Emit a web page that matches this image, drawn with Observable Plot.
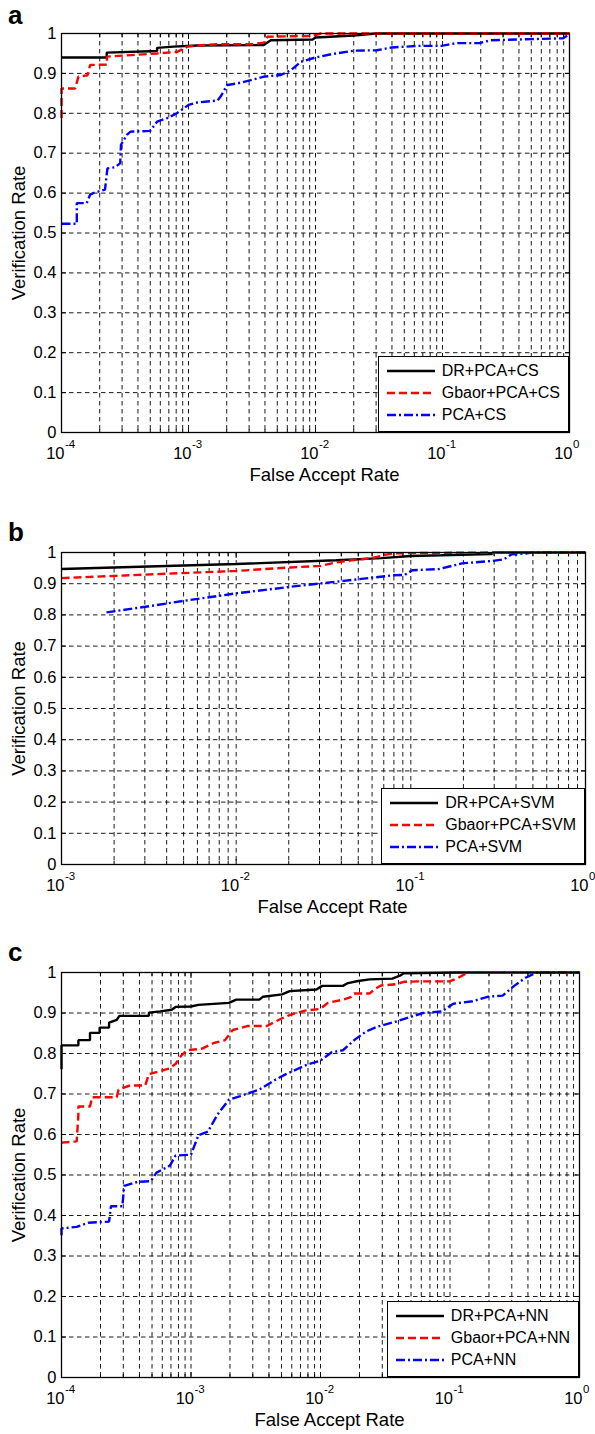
<!DOCTYPE html>
<html><head><meta charset="utf-8">
<script src="https://cdn.jsdelivr.net/npm/d3@7"></script>
<script src="https://cdn.jsdelivr.net/npm/@observablehq/plot@0.6"></script>
<style>
body{margin:0;background:#fff;font-family:'Liberation Sans',Arial,Helvetica,sans-serif;}
#root{position:relative;width:595px;height:1434px;overflow:hidden;background:#fff;}
.panel{position:absolute;left:0;width:595px;}
.letter{position:absolute;left:8px;font-weight:bold;font-size:26px;line-height:26px;}
.legend{position:absolute;box-sizing:border-box;background:#fff;border:1.3px solid #000;padding:3px 8px 5px 8px;font-size:16px;}
.legend .row{display:flex;align-items:center;height:22px;white-space:nowrap;}
.legend svg{margin-right:7px;flex:none;}
</style></head><body><div id="root"></div>
<script>
// ---------- data ----------
const panelLetters = ["a", "b", "c"];
const xTitle = "False Accept Rate";
const yTitle = "Verification Rate";
const yTicks = [0, 0.1, 0.2, 0.3, 0.4, 0.5, 0.6, 0.7, 0.8, 0.9, 1];
const yTickLabels = ["0", "0.1", "0.2", "0.3", "0.4", "0.5", "0.6", "0.7", "0.8", "0.9", "1"];
const minorSteps = [2, 3, 4, 5, 6, 7, 8, 9];

const xDecadesA = [1e-4, 1e-3, 1e-2, 1e-1, 1];
const xDecadesB = [1e-3, 1e-2, 1e-1, 1];
const xDecadesC = [1e-4, 1e-3, 1e-2, 1e-1, 1];

const namesA = ["DR+PCA+CS", "Gbaor+PCA+CS", "PCA+CS"];
const namesB = ["DR+PCA+SVM", "Gbaor+PCA+SVM", "PCA+SVM"];
const namesC = ["DR+PCA+NN", "Gbaor+PCA+NN", "PCA+NN"];

// Panel a
const farA_DR = [1e-4, 2.27e-4, 2.27e-4, 5.66e-4, 5.66e-4, 7.6e-4, 1.17e-3, 3.9e-3, 4.45e-3, 9.5e-3, 1.0e-2, 2.0e-2, 3.0e-2, 1];
const vrA_DR  = [0.94, 0.94, 0.952, 0.956, 0.964, 0.967, 0.970, 0.971, 0.983, 0.985, 0.990, 0.995, 1.0, 1.0];
const farA_GB = [1e-4, 1e-4, 1.28e-4, 1.36e-4, 1.6e-4, 1.68e-4, 2.28e-4, 2.28e-4, 5.66e-4, 8.15e-4, 9.8e-4, 1.17e-3, 1.69e-3, 3.09e-3, 3.93e-3, 4.19e-3, 9.5e-3, 1.1e-2, 1];
const vrA_GB  = [0.788, 0.862, 0.862, 0.892, 0.895, 0.921, 0.922, 0.942, 0.95, 0.954, 0.967, 0.97, 0.973, 0.973, 0.977, 0.992, 0.994, 1.0, 1.0];
const farA_PCA = [1e-4, 1.32e-4, 1.32e-4, 1.58e-4, 1.68e-4, 1.78e-4, 2.2e-4, 2.3e-4, 2.65e-4, 2.9e-4, 2.94e-4, 3.27e-4, 3.5e-4, 5e-4, 5.66e-4, 6.8e-4, 8.1e-4, 1e-3, 1.17e-3, 1.69e-3, 1.79e-3, 2.02e-3, 2.43e-3, 3.09e-3, 3.93e-3, 5.33e-3, 6.4e-3, 7.67e-3, 1e-2, 1.33e-2, 2.01e-2, 3.04e-2, 4.0e-2, 6.5e-2, 9.8e-2, 0.129, 0.195, 0.24, 0.51, 0.89, 1];
const vrA_PCA  = [0.523, 0.523, 0.575, 0.575, 0.596, 0.6, 0.609, 0.662, 0.665, 0.675, 0.721, 0.746, 0.754, 0.756, 0.779, 0.788, 0.8, 0.821, 0.827, 0.832, 0.842, 0.871, 0.875, 0.883, 0.892, 0.896, 0.908, 0.929, 0.94, 0.948, 0.957, 0.958, 0.965, 0.969, 0.969, 0.976, 0.976, 0.983, 0.986, 0.988, 0.998];

// Panel b
const farB_DR = [1e-3, 1e-2, 3.73e-2, 6.8e-2, 0.1, 0.15, 0.29, 0.3, 1];
const vrB_DR  = [0.947, 0.963, 0.975, 0.982, 0.989, 0.991, 0.995, 1.0, 1.0];
const farB_GB = [1e-3, 1e-2, 2.04e-2, 3.05e-2, 3.73e-2, 4.57e-2, 6.0e-2, 7.2e-2, 7.9e-2, 0.1, 0.3, 1];
const vrB_GB  = [0.918, 0.941, 0.952, 0.957, 0.968, 0.975, 0.982, 0.993, 0.997, 0.998, 1.0, 1.0];
const farB_PCA = [1.81e-3, 3.02e-3, 5e-3, 1e-2, 2.04e-2, 3.05e-2, 4.13e-2, 6.17e-2, 7.9e-2, 9.2e-2, 0.102, 0.145, 0.196, 0.293, 0.341, 0.377, 0.461, 0.5, 1];
const vrB_PCA  = [0.808, 0.826, 0.845, 0.869, 0.89, 0.901, 0.909, 0.92, 0.927, 0.928, 0.943, 0.947, 0.965, 0.973, 0.978, 0.994, 0.997, 1.0, 1.0];

// Panel c
const farC_DR = [1e-4, 1e-4, 1.35e-4, 1.35e-4, 1.66e-4, 1.66e-4, 1.97e-4, 1.97e-4, 2.33e-4, 2.33e-4, 2.67e-4, 2.8e-4, 4.73e-4, 4.73e-4, 5.8e-4, 7.1e-4, 7.6e-4, 1e-3, 1.14e-3, 1.96e-3, 2.24e-3, 3.37e-3, 3.6e-3, 5.05e-3, 5.78e-3, 9.3e-3, 1.03e-2, 1.49e-2, 1.6e-2, 1.95e-2, 2.39e-2, 3.59e-2, 4.11e-2, 4.4e-2, 0.113, 1];
const vrC_DR  = [0.761, 0.82, 0.82, 0.833, 0.833, 0.851, 0.851, 0.864, 0.864, 0.876, 0.883, 0.893, 0.893, 0.901, 0.904, 0.908, 0.915, 0.916, 0.92, 0.925, 0.933, 0.933, 0.94, 0.946, 0.954, 0.958, 0.967, 0.967, 0.973, 0.979, 0.983, 0.985, 0.992, 0.998, 1.0, 1.0];
const farC_GB = [1e-4, 1.31e-4, 1.35e-4, 1.35e-4, 1.66e-4, 1.72e-4, 2.67e-4, 2.76e-4, 3.38e-4, 4.43e-4, 4.73e-4, 6.64e-4, 7.6e-4, 8.41e-4, 9.31e-4, 1.22e-3, 1.5e-3, 1.83e-3, 2.1e-3, 2.75e-3, 3.85e-3, 5.05e-3, 5.78e-3, 7.59e-3, 9.93e-3, 1.14e-2, 1.49e-2, 1.71e-2, 1.82e-2, 2.39e-2, 2.65e-2, 2.93e-2, 3.84e-2, 4.4e-2, 5.77e-2, 9.9e-2, 0.113, 0.134, 0.14, 1];
const vrC_GB  = [0.58, 0.583, 0.649, 0.669, 0.669, 0.692, 0.692, 0.711, 0.721, 0.721, 0.749, 0.762, 0.774, 0.795, 0.808, 0.812, 0.826, 0.833, 0.858, 0.868, 0.868, 0.887, 0.895, 0.906, 0.91, 0.925, 0.933, 0.939, 0.948, 0.948, 0.96, 0.968, 0.971, 0.977, 0.978, 0.978, 0.985, 0.998, 1.0, 1.0];
const farC_PCA = [1e-4, 1e-4, 1.31e-4, 1.61e-4, 2.33e-4, 2.41e-4, 2.95e-4, 3.05e-4, 3.86e-4, 4.9e-4, 5.42e-4, 6.87e-4, 7.6e-4, 1e-3, 1.14e-3, 1.35e-3, 1.6e-3, 1.96e-3, 2.4e-3, 3.37e-3, 4.41e-3, 5.41e-3, 7.08e-3, 8.13e-3, 9.93e-3, 1.22e-2, 1.49e-2, 1.82e-2, 2.24e-2, 2.74e-2, 3.84e-2, 5.04e-2, 6.17e-2, 8.65e-2, 0.106, 0.149, 0.195, 0.255, 0.313, 0.383, 0.469, 1];
const vrC_PCA  = [0.351, 0.368, 0.372, 0.382, 0.385, 0.423, 0.423, 0.473, 0.483, 0.485, 0.506, 0.523, 0.548, 0.55, 0.598, 0.607, 0.649, 0.686, 0.695, 0.711, 0.734, 0.749, 0.766, 0.774, 0.782, 0.803, 0.808, 0.833, 0.854, 0.866, 0.879, 0.891, 0.9, 0.904, 0.923, 0.929, 0.94, 0.943, 0.967, 0.987, 1.0, 1.0];

// ---------- styling / layout ----------
const FONT = "'Liberation Sans', Arial, Helvetica, sans-serif";
const lineStyles = [
  {stroke: "#000000", dash: null},
  {stroke: "#ff0000", dash: "8,4"},
  {stroke: "#0000ff", dash: "9,3,2,3"}
];
const panels = [
  {top: 0,   height: 500, mt: 33, mb: 68, mr: 26, letterTop: 2,   decades: xDecadesA, names: namesA,
   series: [[farA_DR, vrA_DR], [farA_GB, vrA_GB], [farA_PCA, vrA_PCA]]},
  {top: 500, height: 420, mt: 52, mb: 56, mr: 10, letterTop: 519, decades: xDecadesB, names: namesB,
   series: [[farB_DR, vrB_DR], [farB_GB, vrB_GB], [farB_PCA, vrB_PCA]]},
  {top: 920, height: 514, mt: 52, mb: 57, mr: 16, letterTop: 939, decades: xDecadesC, names: namesC,
   series: [[farC_DR, vrC_DR], [farC_GB, vrC_GB], [farC_PCA, vrC_PCA]]}
];

const root = document.getElementById("root");
const hidden = () => "";

panels.forEach((p, pi) => {
  const minors = p.decades.slice(0, -1).flatMap(d => minorSteps.map(m => d * m));
  const grid = [...p.decades, ...minors];
  const lineMarks = p.series.map(([far, vr], i) => Plot.line(
    far.map((f, j) => ({far: f, vr: vr[j]})),
    {x: "far", y: "vr", stroke: lineStyles[i].stroke, strokeWidth: 2.4,
     strokeDasharray: lineStyles[i].dash, strokeLinecap: "butt", strokeLinejoin: "miter"}
  ));
  const chart = Plot.plot({
    width: 595, height: p.height,
    marginLeft: 61, marginRight: p.mr, marginTop: p.mt, marginBottom: p.mb,
    style: {fontFamily: FONT, background: "transparent", overflow: "visible", color: "#000"},
    x: {type: "log", domain: [p.decades[0], p.decades[p.decades.length - 1]]},
    y: {domain: [0, 1]},
    marks: [
      Plot.ruleX(grid, {x: d => d, stroke: "#000", strokeWidth: 0.9, strokeDasharray: "4.5,3.5"}),
      Plot.ruleY(yTicks, {y: d => d, stroke: "#000", strokeWidth: 0.9, strokeDasharray: "4.5,3.5"}),
      Plot.axisX(p.decades, {anchor: "bottom", tickSize: -5, tickFormat: hidden, label: null}),
      Plot.axisX(p.decades, {anchor: "top", tickSize: -5, tickFormat: hidden, label: null}),
      Plot.axisX(minors, {anchor: "bottom", tickSize: -3, tickFormat: hidden, label: null}),
      Plot.axisX(minors, {anchor: "top", tickSize: -3, tickFormat: hidden, label: null}),
      Plot.axisY(yTicks, {anchor: "left", tickSize: -5, tickFormat: hidden, label: null}),
      Plot.axisY(yTicks, {anchor: "right", tickSize: -5, tickFormat: hidden, label: null}),
      ...lineMarks,
      Plot.frame({stroke: "#000", strokeWidth: 1.3}),
      // x tick labels: 10 with superscript exponent
      Plot.text(p.decades, {x: d => d, text: () => "10", frameAnchor: "bottom", lineAnchor: "top",
        textAnchor: "end", dx: 3, dy: 15, fontSize: 16.5, fill: "#000"}),
      Plot.text(p.decades, {x: d => d, text: d => String(Math.round(Math.log10(d))), frameAnchor: "bottom",
        lineAnchor: "top", textAnchor: "start", dx: 3.5, dy: 7, fontSize: 11.5, fill: "#000"}),
      // y tick labels
      Plot.text(yTicks, {y: d => d, text: (d, i) => yTickLabels[i], frameAnchor: "left",
        textAnchor: "end", dx: -5, fontSize: 16.5, fill: "#000"}),
      // axis titles
      Plot.text([xTitle], {text: d => d, frameAnchor: "bottom", lineAnchor: "top", textAnchor: "middle",
        dy: 35, dx: 9, fontSize: 18.5, fill: "#000"}),
      Plot.text([yTitle], {text: d => d, frameAnchor: "left", textAnchor: "middle", lineAnchor: "middle",
        rotate: -90, dx: -42, fontSize: 18.5, fill: "#000"})
    ]
  });
  const holder = document.createElement("div");
  holder.className = "panel";
  holder.style.top = p.top + "px";
  holder.style.height = p.height + "px";
  holder.appendChild(chart);
  root.appendChild(holder);

  // panel letter
  const letter = document.createElement("div");
  letter.className = "letter";
  letter.style.top = p.letterTop + "px";
  letter.textContent = panelLetters[pi];
  root.appendChild(letter);

  // legend box at the lower right corner of the frame
  const legend = document.createElement("div");
  legend.className = "legend";
  legend.style.right = p.mr + "px";
  legend.style.bottom = (1434 - (p.top + p.height - p.mb)) + "px";
  p.names.forEach((name, i) => {
    const row = document.createElement("div");
    row.className = "row";
    const dash = lineStyles[i].dash ? ` stroke-dasharray="${lineStyles[i].dash}"` : "";
    row.innerHTML = `<svg width="48" height="6"><line x1="0" x2="48" y1="3" y2="3" stroke="${lineStyles[i].stroke}" stroke-width="2.6"${dash}/></svg><span>${name}</span>`;
    legend.appendChild(row);
  });
  root.appendChild(legend);
});
</script></body></html>
